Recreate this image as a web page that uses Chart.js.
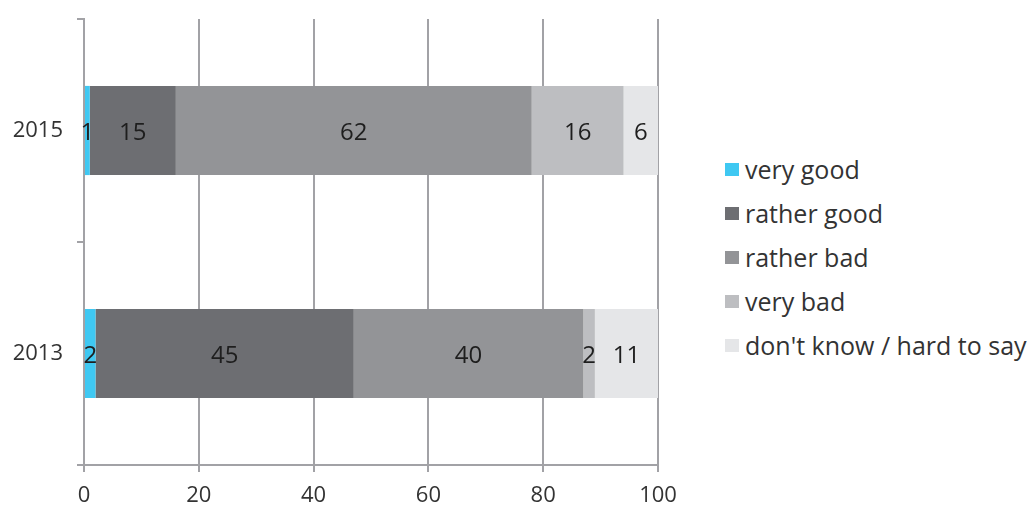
<!DOCTYPE html>
<html><head><meta charset="utf-8">
<script src="https://cdn.jsdelivr.net/npm/chart.js@4.4.1/dist/chart.umd.min.js"></script>
<style>
html,body{margin:0;padding:0;background:#fff;}
#wrap{position:absolute;left:0;top:0;width:690px;height:505px;}
#legend{position:absolute;left:725px;top:147px;font-family:'Open Sans';font-size:25px;color:#333;}
.item{height:44px;display:flex;align-items:center;white-space:nowrap;}
.sw{width:14px;height:13px;margin-right:6px;flex:none;}
</style></head><body>
<div id="wrap"><canvas id="c"></canvas></div>
<div id="legend"></div>
<script>
const categories = ['2015', '2013'];
const seriesNames = ['very good', 'rather good', 'rather bad', 'very bad', "don't know / hard to say"];
const veryGood = [1, 2];
const ratherGood = [15, 45];
const ratherBad = [62, 40];
const veryBad = [16, 2];
const dontKnow = [6, 11];
const xTicks = [0, 20, 40, 60, 80, 100];
const colors = ['#3fc8f2', '#6d6e72', '#939497', '#bdbec1', '#e5e6e8'];

const seriesValues = [veryGood, ratherGood, ratherBad, veryBad, dontKnow];
const gridColor = '#a2a2a6';
const textColor = '#333333';

const datasets = seriesNames.map((name, i) => ({
  label: name,
  data: seriesValues[i],
  backgroundColor: colors[i],
  borderWidth: 0,
  categoryPercentage: 1,
  barPercentage: 0.4
}));

const valueLabels = {
  id: 'valueLabels',
  afterDatasetsDraw(chart) {
    const ctx = chart.ctx;
    ctx.save();
    ctx.font = '24px "Open Sans"';
    ctx.fillStyle = '#1e1e1e';
    ctx.textAlign = 'center';
    ctx.textBaseline = 'middle';
    chart.data.datasets.forEach((ds, di) => {
      const meta = chart.getDatasetMeta(di);
      meta.data.forEach((el, i) => {
        const v = ds.data[i];
        ctx.fillText(String(v), (el.x + el.base) / 2, el.y + 3);
      });
    });
    ctx.restore();
  }
};

new Chart(document.getElementById('c'), {
  type: 'bar',
  data: { labels: categories, datasets },
  plugins: [valueLabels],
  options: {
    indexAxis: 'y',
    responsive: true,
    maintainAspectRatio: false,
    animation: false,
    layout: { padding: { top: 19, right: 32, left: 0, bottom: 0 } },
    plugins: { legend: { display: false }, tooltip: { enabled: false } },
    scales: {
      x: {
        stacked: true,
        min: 0, max: 100,
        afterBuildTicks: (s) => { s.ticks = xTicks.map(v => ({ value: v })); },
        afterFit: (s) => { s.height = 40; },
        ticks: { font: { family: 'Open Sans', size: 22 }, color: textColor, padding: 11, maxRotation: 0 },
        grid: { color: gridColor, lineWidth: 2, tickLength: 7, drawTicks: true },
        border: { display: true, color: gridColor, width: 2 }
      },
      y: {
        stacked: true,
        afterFit: (s) => { s.width = 84; s.paddingTop = 0; s.paddingBottom = 0; },
        ticks: { font: { family: 'Open Sans', size: 22 }, color: textColor, padding: 14 },
        grid: { drawOnChartArea: false, color: gridColor, lineWidth: 2, tickLength: 7, offset: true },
        border: { display: true, color: gridColor, width: 2 }
      }
    }
  }
});

const legend = document.getElementById('legend');
seriesNames.forEach((name, i) => {
  const row = document.createElement('div');
  row.className = 'item';
  const sw = document.createElement('span');
  sw.className = 'sw';
  sw.style.background = colors[i];
  const t = document.createElement('span');
  t.textContent = name;
  row.appendChild(sw);
  row.appendChild(t);
  legend.appendChild(row);
});
</script>
</body></html>
